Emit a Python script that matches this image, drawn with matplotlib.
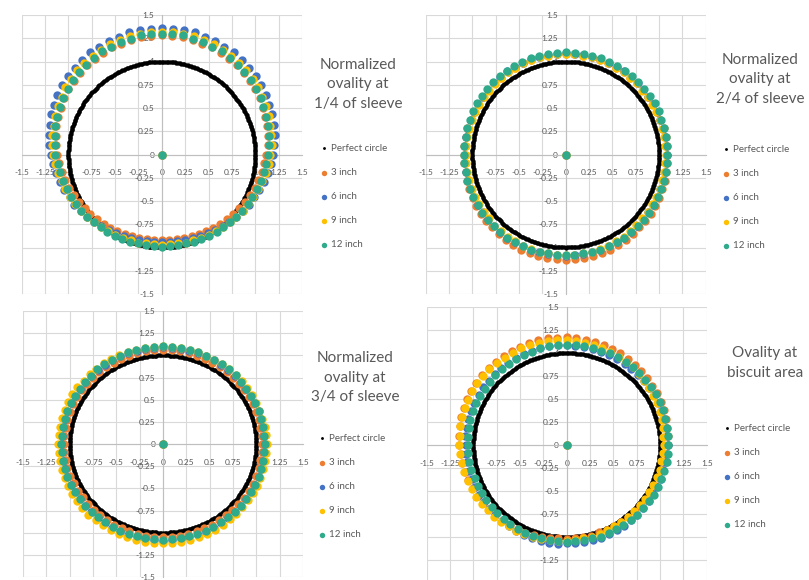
import numpy as np
import matplotlib
matplotlib.use('Agg')
import matplotlib.pyplot as plt

plt.rcParams['font.family'] = ['Lato', 'DejaVu Sans']

# measurement angles (degrees, counter-clockwise from +x) and normalized radii
angles = np.arange(0, 360, 5)
perfect_angles = np.arange(0, 360, 1)
perfect_r = 1.0
center_x, center_y = 0.0, 0.0

series_names = ['3 inch', '6 inch', '9 inch', '12 inch']
series_colors = ['#ED7D31', '#4472C4', '#FFC000', '#2FAA8A']

titles = ['Normalized\novality at\n1/4 of sleeve',
          'Normalized\novality at\n2/4 of sleeve',
          'Normalized\novality at\n3/4 of sleeve',
          'Ovality at\nbiscuit area']

ticks = [-1.5, -1.25, -1, -0.75, -0.5, -0.25, 0, 0.25, 0.5, 0.75, 1, 1.25, 1.5]
tick_labels = ['-1.5', '-1.25', '-1', '-0.75', '-0.5', '-0.25', '0',
               '0.25', '0.5', '0.75', '1', '1.25', '1.5']

# 1/4 of sleeve
r1_3in = [1.12, 1.14, 1.15, 1.17, 1.18, 1.19, 1.21, 1.22, 1.23, 1.24, 1.25, 1.25, 1.26, 1.27, 1.27, 1.28, 1.28, 1.28,
          1.28, 1.28, 1.28, 1.28, 1.27, 1.27, 1.26, 1.25, 1.25, 1.24, 1.23, 1.22, 1.21, 1.19, 1.18, 1.17, 1.15, 1.14,
          1.12, 1.10, 1.09, 1.07, 1.06, 1.04, 1.03, 1.01, 1.00, 0.98, 0.97, 0.96, 0.95, 0.94, 0.93, 0.93, 0.92, 0.92,
          0.92, 0.92, 0.92, 0.93, 0.93, 0.94, 0.95, 0.96, 0.97, 0.98, 1.00, 1.01, 1.03, 1.04, 1.06, 1.07, 1.09, 1.10]
r1_6in = [1.19, 1.21, 1.23, 1.24, 1.26, 1.27, 1.29, 1.30, 1.31, 1.32, 1.33, 1.34, 1.34, 1.35, 1.35, 1.36, 1.36, 1.36,
          1.36, 1.36, 1.36, 1.36, 1.35, 1.35, 1.34, 1.34, 1.33, 1.32, 1.31, 1.30, 1.29, 1.27, 1.26, 1.24, 1.23, 1.21,
          1.19, 1.17, 1.15, 1.13, 1.11, 1.09, 1.08, 1.06, 1.04, 1.02, 1.01, 0.99, 0.98, 0.97, 0.96, 0.95, 0.94, 0.94,
          0.94, 0.94, 0.94, 0.95, 0.96, 0.97, 0.98, 0.99, 1.01, 1.02, 1.04, 1.06, 1.08, 1.09, 1.11, 1.13, 1.15, 1.17]
r1_9in = [1.16, 1.18, 1.19, 1.20, 1.22, 1.23, 1.24, 1.26, 1.27, 1.28, 1.29, 1.29, 1.30, 1.31, 1.31, 1.32, 1.32, 1.32,
          1.32, 1.32, 1.32, 1.32, 1.31, 1.31, 1.30, 1.29, 1.29, 1.28, 1.27, 1.26, 1.24, 1.23, 1.22, 1.20, 1.19, 1.18,
          1.16, 1.15, 1.13, 1.11, 1.10, 1.08, 1.07, 1.06, 1.04, 1.03, 1.02, 1.01, 1.00, 0.99, 0.98, 0.98, 0.97, 0.97,
          0.97, 0.97, 0.97, 0.98, 0.98, 0.99, 1.00, 1.01, 1.02, 1.03, 1.04, 1.06, 1.07, 1.08, 1.10, 1.11, 1.13, 1.15]
r1_12in = [1.14, 1.15, 1.16, 1.18, 1.19, 1.20, 1.22, 1.23, 1.24, 1.25, 1.26, 1.27, 1.28, 1.28, 1.29, 1.29, 1.30, 1.30,
           1.30, 1.30, 1.30, 1.29, 1.29, 1.28, 1.28, 1.27, 1.26, 1.25, 1.24, 1.23, 1.22, 1.20, 1.19, 1.18, 1.16, 1.15,
           1.14, 1.12, 1.11, 1.10, 1.08, 1.07, 1.06, 1.05, 1.04, 1.03, 1.02, 1.02, 1.01, 1.00, 1.00, 0.99, 0.99, 0.99,
           0.99, 0.99, 0.99, 0.99, 1.00, 1.00, 1.01, 1.02, 1.02, 1.03, 1.04, 1.05, 1.06, 1.07, 1.08, 1.10, 1.11, 1.12]

# 2/4 of sleeve
r2_3in = [1.09, 1.09, 1.09, 1.09, 1.08, 1.08, 1.08, 1.08, 1.08, 1.08, 1.08, 1.08, 1.08, 1.08, 1.08, 1.08, 1.08, 1.08,
          1.08, 1.08, 1.08, 1.08, 1.08, 1.08, 1.08, 1.08, 1.08, 1.08, 1.08, 1.08, 1.08, 1.08, 1.08, 1.09, 1.09, 1.09,
          1.09, 1.09, 1.09, 1.10, 1.10, 1.10, 1.11, 1.11, 1.11, 1.11, 1.12, 1.12, 1.12, 1.13, 1.13, 1.13, 1.13, 1.13,
          1.13, 1.13, 1.13, 1.13, 1.13, 1.13, 1.12, 1.12, 1.12, 1.11, 1.11, 1.11, 1.11, 1.10, 1.10, 1.10, 1.09, 1.09]
r2_6in = [1.08, 1.08, 1.08, 1.08, 1.08, 1.08, 1.08, 1.08, 1.08, 1.09, 1.09, 1.09, 1.09, 1.09, 1.09, 1.09, 1.09, 1.09,
          1.09, 1.09, 1.09, 1.09, 1.09, 1.09, 1.09, 1.09, 1.09, 1.08, 1.08, 1.08, 1.08, 1.08, 1.08, 1.08, 1.08, 1.08,
          1.08, 1.08, 1.08, 1.08, 1.08, 1.08, 1.08, 1.08, 1.08, 1.09, 1.09, 1.09, 1.09, 1.09, 1.09, 1.09, 1.09, 1.09,
          1.09, 1.09, 1.09, 1.09, 1.09, 1.09, 1.09, 1.09, 1.09, 1.08, 1.08, 1.08, 1.08, 1.08, 1.08, 1.08, 1.08, 1.08]
r2_9in = [1.07, 1.07, 1.07, 1.07, 1.07, 1.07, 1.07, 1.07, 1.07, 1.08, 1.08, 1.08, 1.08, 1.08, 1.08, 1.08, 1.08, 1.08,
          1.08, 1.08, 1.08, 1.08, 1.08, 1.08, 1.08, 1.08, 1.08, 1.07, 1.07, 1.07, 1.07, 1.07, 1.07, 1.07, 1.07, 1.07,
          1.07, 1.07, 1.07, 1.07, 1.07, 1.07, 1.07, 1.07, 1.07, 1.08, 1.08, 1.08, 1.08, 1.08, 1.08, 1.08, 1.08, 1.08,
          1.08, 1.08, 1.08, 1.08, 1.08, 1.08, 1.08, 1.08, 1.08, 1.07, 1.07, 1.07, 1.07, 1.07, 1.07, 1.07, 1.07, 1.07]
r2_12in = [1.09, 1.09, 1.09, 1.09, 1.09, 1.10, 1.10, 1.10, 1.10, 1.10, 1.10, 1.10, 1.10, 1.10, 1.10, 1.10, 1.10, 1.10,
           1.10, 1.10, 1.10, 1.10, 1.10, 1.10, 1.10, 1.10, 1.10, 1.10, 1.10, 1.10, 1.10, 1.10, 1.09, 1.09, 1.09, 1.09,
           1.09, 1.09, 1.09, 1.09, 1.09, 1.09, 1.09, 1.09, 1.09, 1.09, 1.09, 1.09, 1.09, 1.09, 1.09, 1.08, 1.08, 1.08,
           1.08, 1.08, 1.08, 1.09, 1.09, 1.09, 1.09, 1.09, 1.09, 1.09, 1.09, 1.09, 1.09, 1.09, 1.09, 1.09, 1.09, 1.09]

# 3/4 of sleeve
r3_3in = [1.06, 1.06, 1.06, 1.06, 1.06, 1.06, 1.06, 1.06, 1.06, 1.06, 1.06, 1.06, 1.06, 1.06, 1.06, 1.06, 1.06, 1.06,
          1.06, 1.06, 1.06, 1.06, 1.06, 1.06, 1.06, 1.06, 1.06, 1.06, 1.06, 1.06, 1.06, 1.06, 1.06, 1.06, 1.06, 1.06,
          1.06, 1.06, 1.06, 1.06, 1.06, 1.05, 1.05, 1.05, 1.05, 1.05, 1.05, 1.05, 1.05, 1.05, 1.05, 1.05, 1.05, 1.05,
          1.05, 1.05, 1.05, 1.05, 1.05, 1.05, 1.05, 1.05, 1.05, 1.05, 1.05, 1.06, 1.06, 1.06, 1.06, 1.06, 1.06, 1.06]
r3_6in = [1.09, 1.09, 1.09, 1.09, 1.09, 1.09, 1.09, 1.09, 1.09, 1.09, 1.09, 1.09, 1.09, 1.09, 1.09, 1.09, 1.09, 1.09,
          1.09, 1.09, 1.09, 1.09, 1.09, 1.09, 1.09, 1.09, 1.09, 1.09, 1.09, 1.09, 1.09, 1.09, 1.09, 1.09, 1.09, 1.09,
          1.09, 1.09, 1.09, 1.09, 1.09, 1.09, 1.09, 1.09, 1.09, 1.09, 1.09, 1.09, 1.09, 1.09, 1.09, 1.09, 1.09, 1.09,
          1.09, 1.09, 1.09, 1.09, 1.09, 1.09, 1.09, 1.09, 1.09, 1.09, 1.09, 1.09, 1.09, 1.09, 1.09, 1.09, 1.09, 1.09]
r3_9in = [1.11, 1.11, 1.11, 1.10, 1.10, 1.10, 1.10, 1.10, 1.10, 1.10, 1.10, 1.10, 1.10, 1.10, 1.10, 1.10, 1.10, 1.10,
          1.10, 1.10, 1.10, 1.10, 1.10, 1.11, 1.11, 1.11, 1.11, 1.11, 1.11, 1.12, 1.12, 1.12, 1.12, 1.12, 1.12, 1.12,
          1.12, 1.12, 1.12, 1.12, 1.12, 1.12, 1.12, 1.12, 1.13, 1.13, 1.12, 1.12, 1.12, 1.12, 1.12, 1.12, 1.12, 1.12,
          1.12, 1.12, 1.12, 1.12, 1.12, 1.12, 1.12, 1.12, 1.11, 1.11, 1.11, 1.11, 1.11, 1.11, 1.11, 1.11, 1.11, 1.11]
r3_12in = [1.09, 1.09, 1.09, 1.09, 1.09, 1.09, 1.09, 1.09, 1.09, 1.10, 1.10, 1.10, 1.10, 1.10, 1.10, 1.10, 1.10, 1.10,
           1.10, 1.10, 1.10, 1.10, 1.10, 1.10, 1.10, 1.10, 1.10, 1.09, 1.09, 1.09, 1.09, 1.09, 1.09, 1.09, 1.09, 1.09,
           1.09, 1.09, 1.09, 1.09, 1.09, 1.09, 1.09, 1.09, 1.09, 1.08, 1.08, 1.08, 1.08, 1.08, 1.08, 1.08, 1.08, 1.08,
           1.08, 1.08, 1.08, 1.08, 1.08, 1.08, 1.08, 1.08, 1.08, 1.09, 1.09, 1.09, 1.09, 1.09, 1.09, 1.09, 1.09, 1.09]

# biscuit area
r4_3in = [1.08, 1.09, 1.09, 1.10, 1.11, 1.11, 1.12, 1.12, 1.13, 1.13, 1.14, 1.14, 1.15, 1.15, 1.16, 1.16, 1.16, 1.17,
          1.17, 1.17, 1.18, 1.18, 1.18, 1.18, 1.18, 1.18, 1.18, 1.18, 1.18, 1.18, 1.18, 1.18, 1.17, 1.17, 1.16, 1.16,
          1.15, 1.14, 1.14, 1.13, 1.12, 1.11, 1.10, 1.09, 1.09, 1.08, 1.07, 1.06, 1.05, 1.05, 1.04, 1.03, 1.03, 1.02,
          1.02, 1.02, 1.02, 1.02, 1.01, 1.02, 1.02, 1.02, 1.02, 1.03, 1.03, 1.04, 1.04, 1.05, 1.05, 1.06, 1.07, 1.07]
r4_6in = [1.08, 1.08, 1.08, 1.08, 1.08, 1.08, 1.08, 1.08, 1.08, 1.08, 1.08, 1.08, 1.08, 1.08, 1.08, 1.08, 1.08, 1.08,
          1.09, 1.09, 1.09, 1.09, 1.09, 1.09, 1.09, 1.09, 1.09, 1.09, 1.09, 1.09, 1.09, 1.09, 1.09, 1.09, 1.09, 1.09,
          1.08, 1.08, 1.08, 1.08, 1.08, 1.08, 1.08, 1.08, 1.08, 1.08, 1.08, 1.08, 1.08, 1.08, 1.08, 1.08, 1.08, 1.08,
          1.07, 1.07, 1.07, 1.07, 1.07, 1.07, 1.07, 1.07, 1.07, 1.07, 1.07, 1.07, 1.07, 1.07, 1.07, 1.07, 1.08, 1.08]
r4_9in = [1.04, 1.04, 1.05, 1.06, 1.06, 1.07, 1.07, 1.08, 1.08, 1.09, 1.10, 1.10, 1.11, 1.11, 1.12, 1.12, 1.13, 1.14,
          1.14, 1.15, 1.15, 1.15, 1.16, 1.16, 1.16, 1.16, 1.17, 1.17, 1.17, 1.17, 1.17, 1.17, 1.16, 1.16, 1.16, 1.15,
          1.15, 1.15, 1.14, 1.14, 1.13, 1.12, 1.12, 1.11, 1.10, 1.10, 1.09, 1.08, 1.08, 1.07, 1.06, 1.06, 1.05, 1.05,
          1.04, 1.04, 1.03, 1.03, 1.03, 1.02, 1.02, 1.02, 1.02, 1.02, 1.02, 1.02, 1.02, 1.02, 1.03, 1.03, 1.03, 1.04]
r4_12in = [1.09, 1.09, 1.09, 1.09, 1.10, 1.10, 1.10, 1.10, 1.10, 1.10, 1.10, 1.10, 1.10, 1.10, 1.09, 1.09, 1.09, 1.09,
           1.09, 1.09, 1.09, 1.09, 1.08, 1.08, 1.08, 1.08, 1.08, 1.08, 1.07, 1.07, 1.07, 1.07, 1.07, 1.07, 1.06, 1.06,
           1.06, 1.06, 1.06, 1.06, 1.05, 1.05, 1.05, 1.05, 1.05, 1.05, 1.05, 1.05, 1.05, 1.05, 1.05, 1.05, 1.05, 1.05,
           1.05, 1.05, 1.05, 1.05, 1.06, 1.06, 1.06, 1.06, 1.07, 1.07, 1.07, 1.07, 1.08, 1.08, 1.08, 1.08, 1.09, 1.09]

panel_radii = [[r1_3in, r1_6in, r1_9in, r1_12in],
               [r2_3in, r2_6in, r2_9in, r2_12in],
               [r3_3in, r3_6in, r3_9in, r3_12in],
               [r4_3in, r4_6in, r4_9in, r4_12in]]

# layout in pixels of the 809x580 canvas
W, H = 809, 580
plot_boxes = [(21.7, 15, 302, 294), (425.7, 15, 705.7, 294),
              (23, 311, 303, 577), (426.7, 307, 706.7, 583)]   # left, top, right, bottom
title_xy = [(358, 84), (760, 79), (355, 378), (765, 363)]
legend_xy = [(321, 144), (723, 145), (319, 434), (724, 424)]

fig = plt.figure(figsize=(W / 100, H / 100), dpi=100)
text_gray = '#595959'

for i in range(4):
    l, t, r, b = plot_boxes[i]
    ax = fig.add_axes([l / W, 1 - b / H, (r - l) / W, (b - t) / H])
    ax.set_xlim(-1.5, 1.5)
    ax.set_ylim(-1.5, 1.5)

    th = np.deg2rad(perfect_angles)
    handles = [ax.scatter(np.append(perfect_r * np.cos(th), center_x),
                          np.append(perfect_r * np.sin(th), center_y),
                          s=10, color='black', linewidths=0, label='Perfect circle')]
    th = np.deg2rad(angles)
    for name, color, rad in zip(series_names, series_colors, panel_radii[i]):
        rad = np.array(rad)
        h = ax.scatter(np.append(rad * np.cos(th), center_x),
                       np.append(rad * np.sin(th), center_y),
                       s=36, color=color, linewidths=0, label=name)
        handles.append(h)

    ax.set_xticks(ticks)
    ax.set_xticklabels(tick_labels)
    ax.set_yticks(ticks)
    ax.set_yticklabels(tick_labels)
    ax.grid(True, color='#d9d9d9', linewidth=0.8)
    ax.set_axisbelow(True)
    ax.spines['top'].set_visible(False)
    ax.spines['right'].set_visible(False)
    for side in ['left', 'bottom']:
        ax.spines[side].set_position(('data', 0))
        ax.spines[side].set_color('#bfbfbf')
        ax.spines[side].set_linewidth(0.8)
        ax.spines[side].set_zorder(0.6)
    ax.tick_params(length=0, labelsize=6, labelcolor=text_gray)
    ax.tick_params(axis='x', pad=10.5)
    ax.tick_params(axis='y', pad=5.5)

    tx, ty = title_xy[i]
    fig.text(tx / W, 1 - ty / H, titles[i], ha='center', va='center',
             fontsize=11, color=text_gray, linespacing=1.5)

    lx, ly = legend_xy[i]
    ax.legend(handles=handles, loc='upper left', bbox_to_anchor=(lx / W, 1 - ly / H),
              bbox_transform=fig.transFigure, frameon=False, fontsize=7,
              labelcolor=text_gray, labelspacing=1.55, handlelength=0.7,
              handletextpad=0.35, borderpad=0, borderaxespad=0, scatterpoints=1,
              markerscale=0.65)

fig.savefig('out.png', dpi=100)
